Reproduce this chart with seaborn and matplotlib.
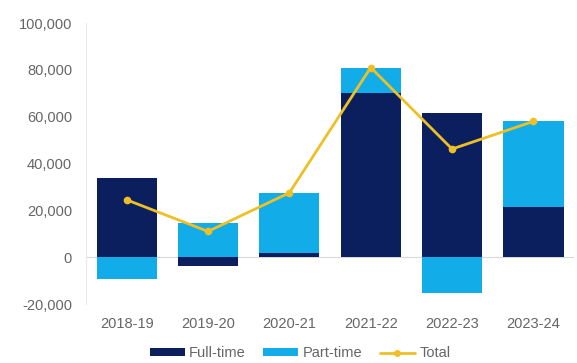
import numpy as np
import pandas as pd
import matplotlib
matplotlib.use("Agg")
import matplotlib.pyplot as plt
import seaborn as sns
from matplotlib.patches import Patch
from matplotlib.lines import Line2D
from matplotlib.ticker import FuncFormatter

# Annual change by study mode
years = ["2018-19", "2019-20", "2020-21", "2021-22", "2022-23", "2023-24"]
full_time = [34000, -3800, 2000, 70000, 61500, 21500]
part_time = [-9500, 14800, 25500, 11000, -15300, 36500]
total = [24500, 11000, 27500, 81000, 46200, 58000]
y_ticks = [-20000, 0, 20000, 40000, 60000, 80000, 100000]

NAVY = "#0B1F5E"
SKY = "#12ACE8"
GOLD = "#EEC026"
TEXT = "#666666"

sns.set_theme(style="white")
plt.rcParams["font.family"] = ["Liberation Sans", "DejaVu Sans"]

df = pd.DataFrame({"year": years, "full_time": full_time,
                   "part_time": part_time, "total": total})

# Part-time stacks on full-time when both move in the same direction
ft = df["full_time"].to_numpy()
pt = df["part_time"].to_numpy()
pt_bottom = np.where(np.sign(ft) == np.sign(pt), ft, 0)

fig = plt.figure(figsize=(5.77, 3.63), dpi=100)
ax = fig.add_axes([0.149, 0.1625, 0.846, 0.774])

sns.barplot(data=df, x="year", y="full_time", color=NAVY, width=0.74,
            saturation=1, linewidth=0, ax=ax, zorder=2)
sns.barplot(data=df, x="year", y="part_time", color=SKY, width=0.74,
            saturation=1, linewidth=0, bottom=pt_bottom, ax=ax, zorder=2)
sns.pointplot(data=df, x="year", y="total", color=GOLD, markers="o",
              markersize=4, linewidth=2.0, ax=ax, zorder=4)

ax.set_ylim(-20000, 100000)
ax.set_yticks(y_ticks)
ax.yaxis.set_major_formatter(FuncFormatter(lambda v, _: f"{v:,.0f}"))
ax.set_xlim(-0.5, len(years) - 0.5)
ax.axhline(0, color="#D9D9D9", lw=0.8, zorder=1)

ax.set_xlabel("")
ax.set_ylabel("")
ax.tick_params(axis="both", length=0, labelsize=10.5, colors=TEXT)
ax.tick_params(axis="y", pad=10)
ax.tick_params(axis="x", pad=9)
for side in ["top", "right", "bottom"]:
    ax.spines[side].set_visible(False)
ax.spines["left"].set_color("#EBEBEB")
ax.spines["left"].set_linewidth(0.8)

handles = [
    Patch(facecolor=NAVY, edgecolor="none"),
    Patch(facecolor=SKY, edgecolor="none"),
    Line2D([0], [0], color=GOLD, lw=2, marker="o", markersize=4),
]
labels = ["Full-time", "Part-time", "Total"]
fig.legend(handles, labels, loc="center", bbox_to_anchor=(0.52, 0.027),
           ncol=3, frameon=False, fontsize=10.5, labelcolor=TEXT,
           handlelength=2.4, handleheight=0.45, handletextpad=0.3,
           columnspacing=1.2)

fig.savefig("out.png", dpi=100)
